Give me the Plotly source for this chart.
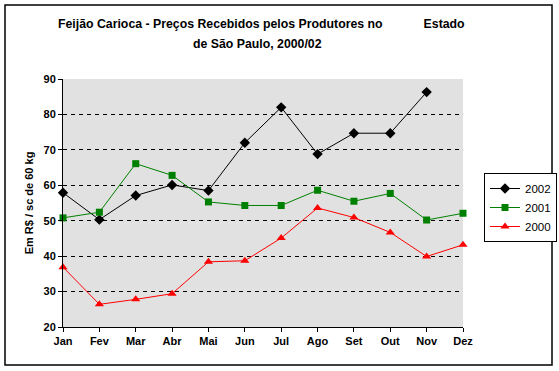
import plotly.graph_objects as go

months = ["Jan", "Fev", "Mar", "Abr", "Mai", "Jun", "Jul", "Ago", "Set", "Out", "Nov", "Dez"]
s2002 = [57.9, 50.3, 57.1, 60.1, 58.5, 72.0, 82.0, 68.8, 74.7, 74.7, 86.3, None]
s2001 = [50.8, 52.4, 66.1, 62.8, 55.3, 54.3, 54.3, 58.6, 55.5, 57.7, 50.2, 52.1]
s2000 = [36.9, 26.4, 27.8, 29.4, 38.4, 38.7, 45.1, 53.6, 50.9, 46.7, 39.9, 43.2]
title_line1 = "Feijão Carioca - Preços Recebidos pelos Produtores no" + "\u00a0" * 12 + "Estado"
title_line2 = "de São Paulo, 2000/02"

FONT = "Liberation Sans, Arial, sans-serif"

fig = go.Figure()
fig.add_trace(go.Scatter(x=months, y=s2002, name="2002", mode="lines+markers",
                         line=dict(color="black", width=1),
                         marker=dict(symbol="diamond", size=8, color="black"),
                         cliponaxis=False))
fig.add_trace(go.Scatter(x=months, y=s2001, name="2001", mode="lines+markers",
                         line=dict(color="#008000", width=1),
                         marker=dict(symbol="square", size=7, color="#008000"),
                         cliponaxis=False))
fig.add_trace(go.Scatter(x=months, y=s2000, name="2000", mode="lines+markers",
                         line=dict(color="#ff0000", width=1),
                         marker=dict(symbol="triangle-up", size=8, color="#ff0000"),
                         cliponaxis=False))

def px_x(p):
    return (p - 63) / 400

def px_y(p):
    return (327 - p) / 248

tfont = dict(family=FONT, size=12.3, color="black", weight="bold")

fig.update_layout(
    width=559, height=371,
    margin=dict(l=63, r=96, t=79, b=44, autoexpand=False),
    paper_bgcolor="white",
    plot_bgcolor="#e1e1e1",
    font=dict(family=FONT, size=11, color="black"),
    showlegend=True,
    legend=dict(x=px_x(484), y=px_y(173), xanchor="left", yanchor="top",
                bordercolor="black", borderwidth=1, bgcolor="white",
                font=dict(family=FONT, size=11.5, color="black"),
                tracegroupgap=0, itemwidth=30),
    xaxis=dict(type="category", range=[0, 11], showgrid=False, showline=True,
               linecolor="black", linewidth=1, ticks="outside", ticklen=4,
               tickcolor="black", zeroline=False, automargin=False,
               tickfont=dict(family=FONT, size=11, weight="bold")),
    yaxis=dict(range=[20, 90], dtick=10, showgrid=True, gridcolor="black",
               gridwidth=1, griddash="4px,4px", showline=True, linecolor="black",
               linewidth=1, ticks="outside", ticklen=4, tickcolor="black",
               zeroline=False, automargin=False,
               tickfont=dict(family=FONT, size=11, weight="bold"),
               title=dict(text="Em R$ / sc de 60 kg", standoff=7,
                          font=dict(family=FONT, size=11, weight="bold"))),
    annotations=[
        dict(text=title_line1, xref="paper", yref="paper", x=px_x(261), y=px_y(24),
             xanchor="center", yanchor="middle", showarrow=False, font=tfont),
        dict(text=title_line2, xref="paper", yref="paper", x=px_x(257), y=px_y(44),
             xanchor="center", yanchor="middle", showarrow=False, font=tfont),
    ],
    shapes=[dict(type="rect", xref="paper", yref="paper",
                 x0=px_x(5), x1=px_x(552), y0=px_y(365), y1=px_y(5),
                 line=dict(color="black", width=1.5), layer="below")],
)

fig.write_html("out.html", config={"displayModeBar": False},
               post_script="document.body.style.margin='0';")
